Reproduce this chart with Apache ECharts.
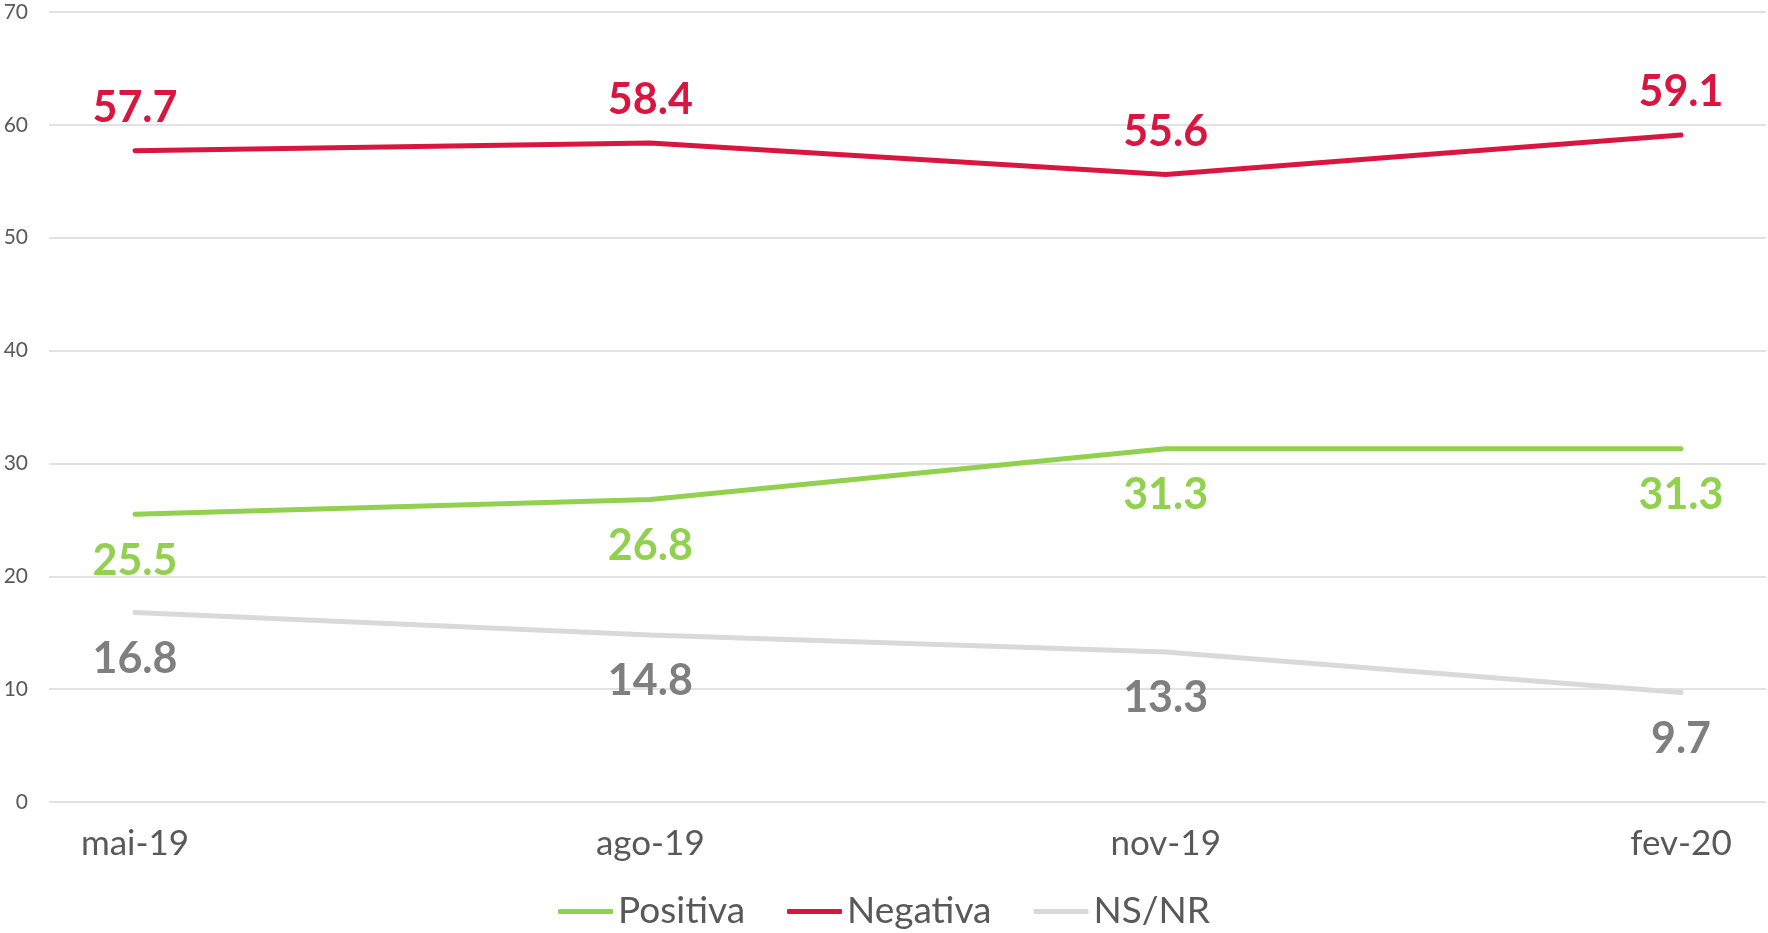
<!DOCTYPE html>
<html>
<head>
<meta charset="utf-8">
<script src="https://cdn.jsdelivr.net/npm/echarts@6/dist/echarts.min.js"></script>
<style>
  html, body { margin: 0; padding: 0; background: #fff; }
  #chart { width: 1768px; height: 933px; }
</style>
</head>
<body>
<div id="chart"></div>
<script>
const months = ["mai-19", "ago-19", "nov-19", "fev-20"];
const positiva = [25.5, 26.8, 31.3, 31.3];
const negativa = [57.7, 58.4, 55.6, 59.1];
const nsnr = [16.8, 14.8, 13.3, 9.7];
const yTicks = { min: 0, max: 70, interval: 10 };

var dom = document.getElementById("chart");
var myChart = echarts.init(dom, null, { renderer: "canvas" });

const font = "Lato, 'Open Sans', sans-serif";

function lineSeries(name, data, color, labelColor, pos, dist) {
  return {
    name: name,
    type: "line",
    xAxisIndex: 1,
    yAxisIndex: 1,
    data: data,
    symbol: "circle",
    symbolSize: 0,
    lineStyle: { color: color, width: 5, cap: "round" },
    itemStyle: { color: color },
    label: {
      show: true,
      position: pos,
      distance: dist,
      color: labelColor,
      fontFamily: font,
      fontWeight: "bold",
      fontSize: 43
    },
    animation: false
  };
}

var option = {
  backgroundColor: "#fff",
  grid: [
    // background grid carrying the wide gridlines and y labels
    { left: 49, right: 2, top: 12, bottom: 131 },
    // plotting grid, narrower so first/last points sit inside the lines
    { left: 135, right: 87, top: 12, bottom: 131 }
  ],
  legend: {
    bottom: -2,
    left: "center",
    icon: "roundRect",
    itemWidth: 55,
    itemHeight: 5,
    itemGap: 42,
    textStyle: { fontFamily: font, fontSize: 37, color: "#595959" },
    data: ["Positiva", "Negativa", "NS/NR"]
  },
  xAxis: [
    { gridIndex: 0, type: "category", data: months, show: false },
    {
      gridIndex: 1,
      type: "category",
      data: months,
      boundaryGap: false,
      axisLine: { show: false },
      axisTick: { show: false },
      axisLabel: { fontFamily: font, fontSize: 35, color: "#595959", margin: 24 }
    }
  ],
  yAxis: [
    {
      gridIndex: 0,
      type: "value",
      min: yTicks.min,
      max: yTicks.max,
      interval: yTicks.interval,
      axisLine: { show: false },
      axisTick: { show: false },
      splitLine: { lineStyle: { color: "#d9d9d9", width: 1.5 } },
      axisLabel: { fontFamily: font, fontSize: 21, color: "#595959", margin: 21 }
    },
    {
      gridIndex: 1,
      type: "value",
      min: yTicks.min,
      max: yTicks.max,
      interval: yTicks.interval,
      show: false,
      splitLine: { show: false }
    }
  ],
  series: [
    lineSeries("Positiva", positiva, "#92d050", "#92d050", "bottom", 25),
    lineSeries("Negativa", negativa, "#d9163f", "#d9163f", "top", 21),
    lineSeries("NS/NR", nsnr, "#d9d9d9", "#7f7f7f", "bottom", 25)
  ]
};

if (option && typeof option === "object") {
  myChart.setOption(option);
}
window.addEventListener("resize", myChart.resize);
</script>
</body>
</html>
